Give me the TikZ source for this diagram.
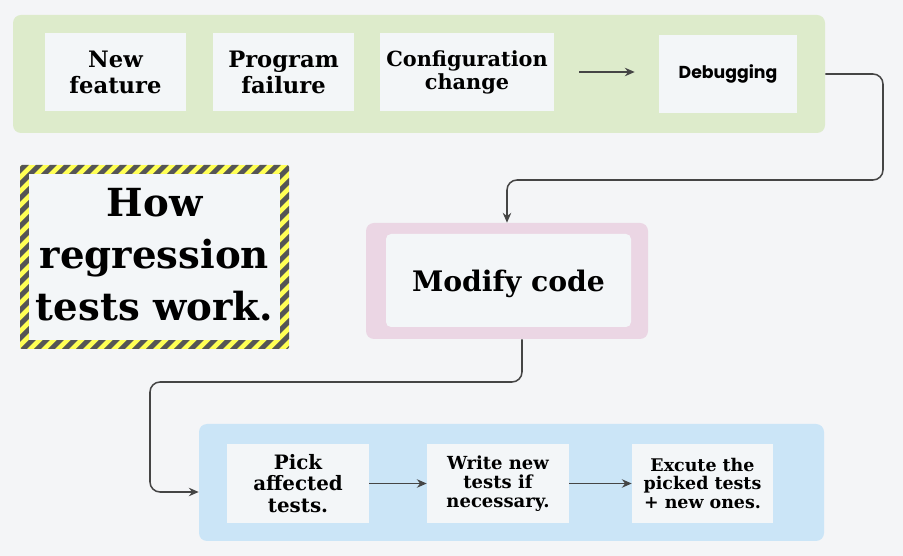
\documentclass[tikz,border=0pt]{standalone}
\usepackage{fontspec}
\setmainfont{DejaVu Serif}
\newfontfamily\popfont{Poppins}
\usetikzlibrary{arrows.meta}
\definecolor{pagebg}{HTML}{F4F5F7}
\definecolor{boxbg}{HTML}{F3F6F8}
\definecolor{greenbg}{HTML}{DDEBCB}
\definecolor{pinkbg}{HTML}{EBD6E4}
\definecolor{bluebg}{HTML}{CBE5F7}
\definecolor{hazdark}{HTML}{555555}
\definecolor{hazyellow}{HTML}{FFFF55}
\definecolor{linegray}{HTML}{454545}
\newcommand{\px}{0.025cm}
\tikzset{
  panel/.style={fill=#1, rounded corners=8*\px, inner sep=0pt},
  stepbox/.style={fill=boxbg, inner sep=0pt, align=center, font=\bfseries},
  conn/.style={draw=linegray, line width=1.1pt, -{Stealth[length=7pt,width=6pt]}},
}

\begin{document}
\begin{tikzpicture}[x=\px, y=-\px]
\fill[pagebg] (0,0) rectangle (903,556);
\useasboundingbox (0,0) rectangle (903,556);

\node[panel=greenbg, minimum width=812*\px, minimum height=118*\px] (changes) at (419,74) {};
\node[stepbox, minimum width=141*\px, minimum height=78*\px, font=\bfseries\fontsize{16.1}{18.5}\selectfont] (feature) at (115.5,72) {New\\feature};
\node[stepbox, minimum width=141*\px, minimum height=78*\px, font=\bfseries\fontsize{16.1}{18.5}\selectfont] (failure) at (283.5,72) {Program\\failure};
\node[stepbox, minimum width=174*\px, minimum height=78*\px, font=\bfseries\fontsize{14.8}{16.4}\selectfont] (config) at (467,72) {Configuration\\change};
\node[stepbox, minimum width=138*\px, minimum height=78*\px, font=\popfont\bfseries\fontsize{12.3}{14}\selectfont] (debug) at (728,74) {Debugging};
\draw[conn, shorten <=25*\px, shorten >=24*\px] (config.east) -- (config.east -| debug.west);

\begin{scope}
\clip[rounded corners=2*\px] (20,165) rectangle (289,349);
\fill[hazyellow] (20,165) rectangle (289,349);
\foreach \i in {-190,-176,...,300}
  \fill[hazdark] (\i,349) -- ++(7,0) -- ++(184,-184) -- ++(-7,0) -- cycle;
\end{scope}
\fill[boxbg] (29,174) rectangle (280,340);
\node[align=center, font=\bfseries\fontsize{27.5}{37}\selectfont] (title) at (154.5,255) {How\\regression\\tests work.};

\node[panel=pinkbg, minimum width=282*\px, minimum height=116*\px] (modify) at (507,281) {};
\node[stepbox, rounded corners=5*\px, minimum width=245*\px, minimum height=93*\px, text depth=0pt, font=\bfseries\fontsize{20.1}{22}\selectfont] (modifytext) at (508.5,280.5) {Modify code};

\node[panel=bluebg, minimum width=625*\px, minimum height=117*\px] (tests) at (511.5,482.5) {};
\node[stepbox, minimum width=142*\px, minimum height=79*\px, font=\bfseries\fontsize{14.1}{15.4}\selectfont] (pick) at (298,483.5) {Pick\\affected\\tests.};
\node[stepbox, minimum width=142*\px, minimum height=79*\px, font=\bfseries\fontsize{12.8}{13.5}\selectfont] (write) at (498,483.5) {Write new\\tests if\\necessary.};
\node[stepbox, minimum width=141*\px, minimum height=79*\px, font=\bfseries\fontsize{12.4}{13.5}\selectfont] (run) at (702.5,483.5) {Excute the\\picked tests\\+ new ones.};
\draw[conn] (pick.east) -- (write.west);
\draw[conn] (write.east) -- (run.west);

\coordinate (turnA) at (883,180);
\coordinate (turnB) at (150,382);
\draw[conn, rounded corners=10*\px] (changes.east |- debug.east) -| (turnA) -| (modify.north);
\draw[conn, rounded corners=10*\px] ([xshift=15*\px]modify.south) |- (turnB) |- ([yshift=-9.5*\px]tests.west);
\end{tikzpicture}
\end{document}
